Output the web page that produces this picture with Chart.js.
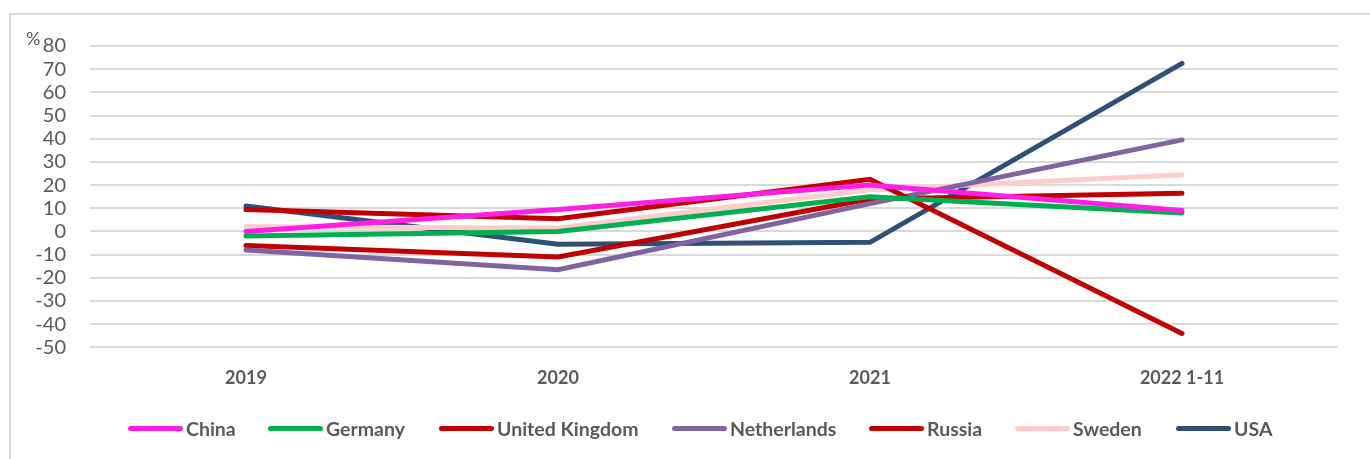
<!DOCTYPE html>
<html>
<head>
<meta charset="utf-8">
<script src="https://cdn.jsdelivr.net/npm/chart.js@4"></script>
<style>
    html, body { margin: 0; padding: 0; background: #fff; }
    #wrap { position: relative; width: 1370px; height: 459px; }
    #frame {
        position: absolute; left: 9px; top: 13px; right: -4px; bottom: -4px;
        border-top: 2px solid #d9d9d9; border-left: 2px solid #d9d9d9;
    }
    #chart { position: absolute; left: 0; top: 0; }
    #unit {
        position: absolute; left: 26px; top: 27px;
        font: 18px Lato, sans-serif; color: #595959;
    }
    #legend { position: absolute; left: 0; top: 417px; width: 1370px; height: 24px; }
    .item {
        position: absolute; top: 0; display: flex; align-items: center; white-space: nowrap;
        font: bold 19.5px Lato, sans-serif; color: #595959;
    }
    .swatch { width: 55px; height: 5px; border-radius: 3px; margin-right: 3px; }
</style>
</head>
<body>
<div id="wrap">
    <div id="frame"></div>
    <canvas id="chart" width="1370" height="459"></canvas>
    <div id="unit">%</div>
    <div id="legend"></div>
</div>
<script>
const years = ["2019", "2020", "2021", "2022 1-11"];

const china = [0, 9.5, 20, 9];
const germany = [-2, 0, 15, 8];
const unitedKingdom = [9.5, 5.5, 22.5, -44];
const netherlands = [-8, -16.5, 12, 39.5];
const russia = [-6, -11, 14, 16.5];
const sweden = [2, 1.5, 18, 24.5];
const usa = [11, -5.5, -4.7, 72.5];

const series = [
    { label: "China", data: china, color: "#ff1ee6" },
    { label: "Germany", data: germany, color: "#00b050" },
    { label: "United Kingdom", data: unitedKingdom, color: "#c00000" },
    { label: "Netherlands", data: netherlands, color: "#8064a2" },
    { label: "Russia", data: russia, color: "#c00000" },
    { label: "Sweden", data: sweden, color: "#ffcccc" },
    { label: "USA", data: usa, color: "#2e5077" }
];

// left edge of each legend entry
const legendLeft = [128, 268, 439, 672, 869, 1015, 1176];

const legendEl = document.getElementById("legend");
series.forEach((s, i) => {
    const item = document.createElement("div");
    item.className = "item";
    item.style.left = legendLeft[i] + "px";
    item.innerHTML = `<span class="swatch" style="background:${s.color}"></span>${s.label}`;
    legendEl.appendChild(item);
});

const ctx = document.getElementById("chart").getContext("2d");
new Chart(ctx, {
    type: "line",
    data: {
        labels: years,
        datasets: series.map(s => ({
            label: s.label,
            data: s.data,
            borderColor: s.color,
            backgroundColor: s.color,
            borderWidth: 5,
            borderCapStyle: "round",
            borderJoinStyle: "miter",
            pointRadius: 0,
            tension: 0
        }))
    },
    options: {
        responsive: false,
        animation: false,
        layout: { padding: { left: 0, right: 32, top: 46, bottom: 50 } },
        plugins: {
            legend: { display: false },
            tooltip: { enabled: false }
        },
        scales: {
            x: {
                offset: true,
                grid: { display: false, drawTicks: false },
                border: { display: false },
                ticks: {
                    autoSkip: false,
                    maxRotation: 0,
                    padding: 20,
                    color: "#595959",
                    font: { family: "Lato, sans-serif", size: 18, weight: "bold" }
                }
            },
            y: {
                min: -50,
                max: 80,
                grid: { color: "#d9d9d9", lineWidth: 2, drawTicks: false },
                border: { display: false },
                afterFit: scale => { scale.width = 90; },
                ticks: {
                    autoSkip: false,
                    stepSize: 10,
                    padding: 24,
                    color: "#595959",
                    font: { family: "Lato, sans-serif", size: 20 }
                }
            }
        }
    }
});
</script>
</body>
</html>
